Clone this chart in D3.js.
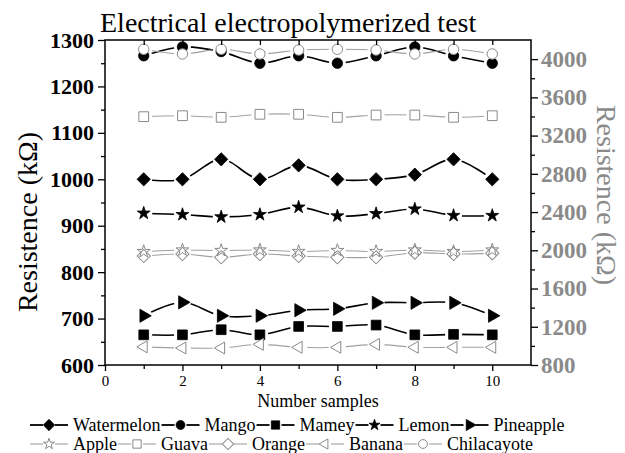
<!DOCTYPE html>
<html><head><meta charset="utf-8">
<script src="https://cdn.jsdelivr.net/npm/d3@7"></script>
<style>
html,body{margin:0;padding:0;background:#fff}
svg{display:block}
</style></head><body>
<svg id="chart" width="625" height="453"></svg>
<script>
// Sample index and measured resistance per fruit electrode
const samples = [1, 2, 3, 4, 5, 6, 7, 8, 9, 10];
const watermelon = [1000, 1000, 1043, 1000, 1030, 1000, 1000, 1010, 1043, 1000];
const mango = [1266, 1285, 1275, 1250, 1266, 1250, 1266, 1285, 1266, 1250];
const mamey = [665, 665, 676, 665, 683, 683, 686, 665, 666, 665];
const lemon = [927, 924, 919, 924, 940, 921, 926, 936, 922, 922];
const pineapple = [706, 735, 706, 706, 718, 721, 734, 734, 734, 706];
// right-axis series (kΩ)
const apple = [1987, 2003, 1998, 2003, 1987, 1998, 1987, 2003, 1987, 2003];
const guava = [3398, 3408, 3391, 3423, 3423, 3391, 3415, 3415, 3391, 3408];
const orange = [1940, 1961, 1927, 1961, 1940, 1927, 1927, 1975, 1961, 1968];
const banana = [990, 978, 978, 1016, 985, 985, 1016, 985, 985, 985];
const chilacayote = [4103, 4054, 4103, 4054, 4095, 4103, 4095, 4054, 4103, 4054];

const xTicks = [0, 2, 4, 6, 8, 10];
const leftTicks = [600, 700, 800, 900, 1000, 1100, 1200, 1300];
const rightTicks = [800, 1200, 1600, 2000, 2400, 2800, 3200, 3600, 4000];

const FONT = "'Liberation Serif', 'Times New Roman', serif";
const BLACK = "#000";
const GREY = "#8a8a8a";
const GREY_LINE = "#a0a0a0";

const series = [
  { name: "Watermelon", values: watermelon, axis: "left", sym: "diamond", filled: true },
  { name: "Mango", values: mango, axis: "left", sym: "circle", filled: true },
  { name: "Mamey", values: mamey, axis: "left", sym: "square", filled: true },
  { name: "Lemon", values: lemon, axis: "left", sym: "star", filled: true },
  { name: "Pineapple", values: pineapple, axis: "left", sym: "triRight", filled: true },
  { name: "Apple", values: apple, axis: "right", sym: "star", filled: false },
  { name: "Guava", values: guava, axis: "right", sym: "square", filled: false },
  { name: "Orange", values: orange, axis: "right", sym: "diamond", filled: false },
  { name: "Banana", values: banana, axis: "right", sym: "triLeft", filled: false },
  { name: "Chilacayote", values: chilacayote, axis: "right", sym: "circle", filled: false }
];

const svg = d3.select("#chart").attr("font-family", FONT);
const L = 105, R = 531, T = 40, B = 365;

const x = d3.scaleLinear().domain([0, 11]).range([L, R]);
const yL = d3.scaleLinear().domain([600, 1300]).range([B, T]);
const yR = d3.scaleLinear().domain([800, 4200]).range([B, T]);

// marker shapes
const symDefs = {
  diamond: { type: d3.symbolSquare, size: 88, rot: 45 },
  circle: { type: d3.symbolCircle, size: 85, rot: 0 },
  square: { type: d3.symbolSquare, size: 95, rot: 0 },
  star: { type: d3.symbolStar, size: 52, rot: 0 },
  triRight: { type: d3.symbolTriangle, size: 75, rot: 90 },
  triLeft: { type: d3.symbolTriangle, size: 62, rot: -90 }
};
function drawSymbol(g, s, cx, cy, scale) {
  const def = symDefs[s.sym];
  const k = scale || 1;
  const col = s.filled ? BLACK : GREY;
  g.append("path")
    .attr("d", d3.symbol(def.type, def.size * k * k)())
    .attr("transform", `translate(${cx},${cy}) rotate(${def.rot})`)
    .attr("fill", s.filled ? BLACK : (s.sym === "star" || s.sym === "diamond" ? "none" : "#fff"))
    .attr("stroke", col)
    .attr("stroke-width", s.filled ? 0.8 : 1);
}

const defs = svg.append("defs");
const plot = svg.append("g");

series.forEach((s, i) => {
  const y = s.axis === "left" ? yL : yR;
  const pts = samples.map((d, j) => [x(d), y(s.values[j])]);
  // gaps in the connecting line around each of the series' own symbols
  const m = defs.append("mask").attr("id", "gap" + i)
    .attr("maskUnits", "userSpaceOnUse")
    .attr("x", 0).attr("y", 0).attr("width", 625).attr("height", 453);
  m.append("rect").attr("width", 625).attr("height", 453).attr("fill", "#fff");
  pts.forEach(p => m.append("circle").attr("cx", p[0]).attr("cy", p[1]).attr("r", 8.5).attr("fill", "#000"));

  plot.append("path")
    .attr("d", d3.line().curve(d3.curveCatmullRom.alpha(0.5))(pts))
    .attr("fill", "none")
    .attr("stroke", s.filled ? BLACK : GREY_LINE)
    .attr("stroke-width", s.filled ? 1.6 : 1.1)
    .attr("mask", `url(#gap${i})`);
  const g = plot.append("g");
  pts.forEach(p => drawSymbol(g, s, p[0], p[1]));
});

// frame and axes
function styleAxis(g, color) {
  g.select(".domain").remove();
  g.attr("font-family", FONT);
  g.selectAll(".tick line").attr("stroke", BLACK).attr("stroke-width", 1.3);
  g.selectAll(".tick text").attr("fill", color);
}
function minorTicks(axisFn, transform) {
  const g = svg.append("g").attr("transform", transform).call(axisFn);
  g.select(".domain").remove();
  g.selectAll(".tick line").attr("stroke", BLACK).attr("stroke-width", 1.3);
  return g;
}

// left axis
minorTicks(d3.axisLeft(yL).tickValues(d3.range(650, 1300, 100)).tickSize(4).tickFormat(""), `translate(${L},0)`);
const glM = svg.append("g").attr("transform", `translate(${L},0)`)
  .call(d3.axisLeft(yL).tickValues(leftTicks).tickSize(7).tickPadding(4).tickFormat(d3.format("d")));
styleAxis(glM, BLACK);
glM.selectAll(".tick text").attr("font-size", 22).attr("font-weight", "bold");

// right axis
minorTicks(d3.axisRight(yR).tickValues(d3.range(1000, 4200, 400)).tickSize(4).tickFormat(""), `translate(${R},0)`);
const grM = svg.append("g").attr("transform", `translate(${R},0)`)
  .call(d3.axisRight(yR).tickValues(rightTicks).tickSize(7).tickPadding(3).tickFormat(d3.format("d")));
styleAxis(grM, GREY);
grM.selectAll(".tick text").attr("font-size", 23).attr("font-weight", "bold");

// bottom axis
minorTicks(d3.axisBottom(x).tickValues(d3.range(1, 11, 2)).tickSize(4).tickFormat(""), `translate(0,${B})`);
const gbM = svg.append("g").attr("transform", `translate(0,${B})`)
  .call(d3.axisBottom(x).tickValues(xTicks).tickSize(6).tickPadding(4).tickFormat(d3.format("d")));
styleAxis(gbM, BLACK);
gbM.selectAll(".tick text").attr("font-size", 15);

// top axis: inward ticks at every sample
minorTicks(d3.axisBottom(x).tickValues(d3.range(1, 11)).tickSize(5).tickFormat(""), `translate(0,${T})`);

svg.append("rect").attr("x", L).attr("y", T).attr("width", R - L).attr("height", B - T)
  .attr("fill", "none").attr("stroke", BLACK).attr("stroke-width", 1.5);

// titles
svg.append("text").attr("x", 100).attr("y", 32).attr("font-size", 28)
  .text("Electrical electropolymerized test");
svg.append("text").attr("x", x(5.5)).attr("y", 407).attr("text-anchor", "middle")
  .attr("font-size", 18).text("Number samples");
svg.append("text").attr("transform", "translate(37,222) rotate(-90)")
  .attr("text-anchor", "middle").attr("font-size", 28).text("Resistence (kΩ)");
svg.append("text").attr("transform", "translate(597,195) rotate(90)")
  .attr("text-anchor", "middle").attr("font-size", 28).attr("fill", GREY).text("Resistence (kΩ)");

// legend: two rows, black series then grey series
const rows = [series.slice(0, 5), series.slice(5)];
const rowY = [425, 444];
rows.forEach((row, ri) => {
  let cx = 30;
  row.forEach(s => {
    const g = svg.append("g").attr("transform", `translate(${cx},${rowY[ri]})`);
    const col = s.filled ? BLACK : GREY_LINE;
    const sw = s.filled ? 1.8 : 1.1;
    g.append("line").attr("x1", 0).attr("x2", 13).attr("stroke", col).attr("stroke-width", sw);
    g.append("line").attr("x1", 25).attr("x2", 38).attr("stroke", col).attr("stroke-width", sw);
    drawSymbol(g, s, 19, 0, 0.85);
    const t = g.append("text").attr("x", 43).attr("y", 6).attr("font-size", 18).text(s.name);
    cx += 43 + t.node().getComputedTextLength() + 1;
  });
});
</script>
</body></html>
